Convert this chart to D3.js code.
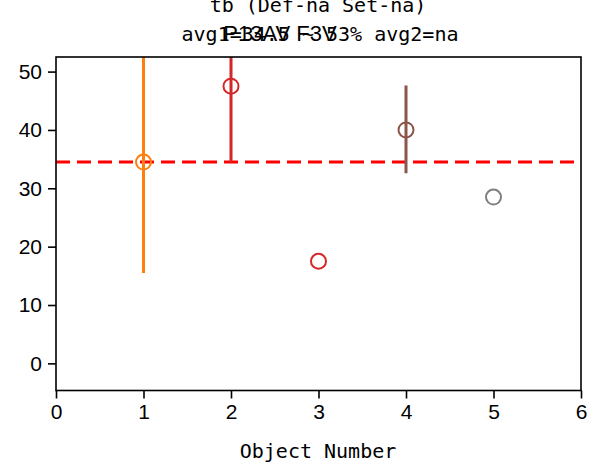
<!DOCTYPE html>
<html><head><meta charset="utf-8">
<script src="https://cdn.jsdelivr.net/npm/d3@7"></script>
<style>body{margin:0;background:#fff}</style>
</head><body>
<svg id="c" width="592" height="466"></svg>
<script>
const objects = [1, 2, 3, 4, 5];
const values = [34.5, 47.5, 17.5, 40.0, 28.5];
const errLow = [15.5, 34.5, null, 32.6, null];
const errHigh = [53.5, 60.5, null, 47.6, null];
const colors = ["#ff7f0e", "#d62728", "#d62728", "#8c564b", "#7f7f7f"];
const avgValue = 34.5;
const xTicks = [0, 1, 2, 3, 4, 5, 6];
const yTicks = [0, 10, 20, 30, 40, 50];
const titleLine1 = "tb (Def-na Set-na)";
const titleLine2 = "avg1=34.5 ~ 53% avg2=na";
const titleOverlay = "P13AV F3V";
const xLabel = "Object Number";

const svg = d3.select("#c");
const L = 56, R = 581, T = 57, B = 390.5;
const x = d3.scaleLinear().domain([0, 6]).range([L, R]);
const y = d3.scaleLinear().domain([-4.65, 52.5]).range([B, T]);

svg.append("defs").append("clipPath").attr("id", "clip")
  .append("rect").attr("x", L).attr("y", T).attr("width", R - L).attr("height", B - T);

const g = svg.append("g").attr("clip-path", "url(#clip)");

// average line
g.append("line").attr("x1", x(0)).attr("x2", x(6)).attr("y1", y(avgValue)).attr("y2", y(avgValue))
  .attr("stroke", "#ff0000").attr("stroke-width", 3).attr("stroke-dasharray", "14,7");

// error bars
objects.forEach((o, i) => {
  if (errLow[i] !== null) {
    g.append("line").attr("x1", x(o)).attr("x2", x(o)).attr("y1", y(errLow[i])).attr("y2", y(errHigh[i]))
      .attr("stroke", colors[i]).attr("stroke-width", 3);
  }
});
// markers
objects.forEach((o, i) => {
  g.append("circle").attr("cx", x(o)).attr("cy", y(values[i])).attr("r", 7.5)
    .attr("fill", "none").attr("stroke", colors[i]).attr("stroke-width", 2);
});

// frame
svg.append("rect").attr("x", L).attr("y", T).attr("width", R - L).attr("height", B - T)
  .attr("fill", "none").attr("stroke", "#000").attr("stroke-width", 1.6);

const xAxis = svg.append("g").attr("transform", `translate(0,${B})`)
  .call(d3.axisBottom(x).tickValues(xTicks).tickFormat(d3.format("d")).tickSize(8).tickPadding(6));
const yAxis = svg.append("g").attr("transform", `translate(${L},0)`)
  .call(d3.axisLeft(y).tickValues(yTicks).tickFormat(d3.format("d")).tickSize(8).tickPadding(6));
[xAxis, yAxis].forEach(a => {
  a.select(".domain").remove();
  a.selectAll(".tick line").attr("stroke", "#000").attr("stroke-width", 1.6);
  a.selectAll(".tick text").attr("fill", "#000")
    .style("font-family", "Liberation Sans, Arial, sans-serif").style("font-size", "21px");
});

const mono = "DejaVu Sans Mono, monospace";
svg.append("text").attr("x", 318).attr("y", 458).attr("text-anchor", "middle")
  .style("font-family", mono).style("font-size", "20px").text(xLabel);
svg.append("text").attr("x", 318).attr("y", 12).attr("text-anchor", "middle")
  .style("font-family", mono).style("font-size", "20px").text(titleLine1);
svg.append("text").attr("x", 320).attr("y", 41).attr("text-anchor", "middle")
  .style("font-family", mono).style("font-size", "20px").text(titleLine2);
svg.append("text").attr("x", 280).attr("y", 41).attr("text-anchor", "middle")
  .style("font-family", "Liberation Sans, Arial, sans-serif").style("font-size", "22px").text(titleOverlay);
</script>
</body></html>
